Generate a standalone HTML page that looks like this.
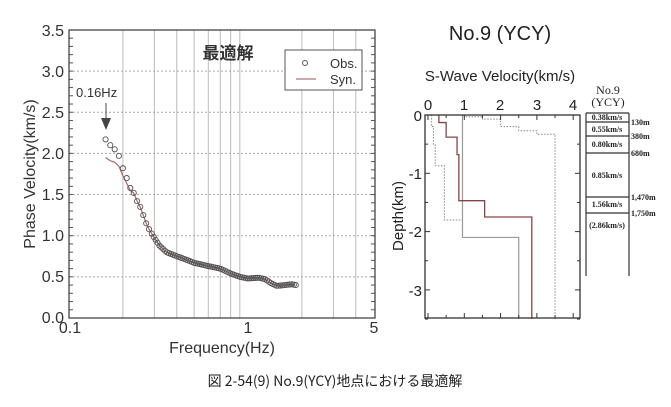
<!DOCTYPE html><html><head><meta charset="utf-8"><style>
body{margin:0;background:#fff;width:671px;height:407px;overflow:hidden;font-family:"Liberation Sans","Noto Sans CJK JP",sans-serif}
svg{position:absolute;left:0;top:0}
</style></head><body>
<svg id="s" width="671" height="407" xmlns="http://www.w3.org/2000/svg" font-family="Liberation Sans, Noto Sans CJK JP, sans-serif">
<g id="left"></g>
<text x="228" y="59" font-size="17" font-weight="bold" text-anchor="middle" fill="#333" font-family="Noto Sans CJK JP, sans-serif">最適解</text>
<rect x="285" y="50" width="77" height="40" fill="#fff" stroke="#555"/>
<circle cx="305" cy="63" r="2.5" fill="none" stroke="#555"/>
<text x="330" y="68" font-size="13" fill="#333">Obs.</text>
<line x1="296" y1="79" x2="316" y2="79" stroke="#a77" stroke-width="1.2"/>
<text x="330" y="84" font-size="13" fill="#333">Syn.</text>
<text x="76" y="97" font-size="13" fill="#333">0.16Hz</text>
<line x1="106" y1="103" x2="106" y2="125" stroke="#444"/>
<polygon points="101,118 111,118 106,130" fill="#444"/>
<g font-size="16" fill="#333" text-anchor="end">
<text x="64" y="36">3.5</text><text x="64" y="77">3.0</text><text x="64" y="118">2.5</text><text x="64" y="159">2.0</text><text x="64" y="200">1.5</text><text x="64" y="241">1.0</text><text x="64" y="282">0.5</text><text x="64" y="323">0.0</text></g>
<g font-size="16" fill="#333" text-anchor="middle"><text x="70" y="333">0.1</text><text x="248" y="333">1</text><text x="374" y="333">5</text></g>
<text x="222" y="353" font-size="16" fill="#333" text-anchor="middle">Frequency(Hz)</text>
<text transform="translate(35,174) rotate(-90)" font-size="16" fill="#333" text-anchor="middle">Phase Velocity(km/s)</text>
<text x="500" y="40" font-size="20" fill="#222" text-anchor="middle">No.9 (YCY)</text>
<text x="500" y="81" font-size="15" fill="#222" text-anchor="middle">S-Wave Velocity(km/s)</text>
<g font-size="15" fill="#222" text-anchor="middle"><text x="428" y="110">0</text><text x="464" y="110">1</text><text x="500" y="110">2</text><text x="537" y="110">3</text><text x="573" y="110">4</text></g>
<g font-size="15" fill="#222" text-anchor="end"><text x="422" y="121">0</text><text x="422" y="179">-1</text><text x="422" y="237">-2</text><text x="422" y="296">-3</text></g>
<text transform="translate(403,216) rotate(-90)" font-size="15" fill="#222" text-anchor="middle">Depth(km)</text>
<g id="right"></g>
<g font-family="Liberation Serif, serif" fill="#222">
<text x="608" y="94" font-size="12" text-anchor="middle">No.9</text>
<text x="608" y="106" font-size="12" text-anchor="middle">(YCY)</text>
<g font-size="8" font-weight="bold" text-anchor="middle">
<text x="607" y="120">0.38km/s</text><text x="607" y="132">0.55km/s</text><text x="607" y="147">0.80km/s</text><text x="607" y="178">0.85km/s</text><text x="607" y="207">1.56km/s</text><text x="607" y="228">(2.86km/s)</text></g>
<g font-size="8" font-weight="bold"><text x="631" y="125">130m</text><text x="631" y="139">380m</text><text x="631" y="156">680m</text><text x="631" y="200">1,470m</text><text x="631" y="216">1,750m</text></g>
</g>
<text x="335" y="386" font-size="14" fill="#222" text-anchor="middle" font-family="Noto Sans CJK JP, sans-serif">図 2-54(9) No.9(YCY)地点における最適解</text>
</svg>
<script>
const NS="http://www.w3.org/2000/svg";
function el(p,t,a){const e=document.createElementNS(NS,t);for(const k in a)e.setAttribute(k,a[k]);p.appendChild(e);return e;}
const L=document.getElementById('left');
const X=f=>69+179*Math.log10(f/0.1), Y=v=>318-v*82.3;
[0.2,0.3,0.4,0.5,0.6,0.7,0.8,0.9,2,3,4].forEach(f=>el(L,'line',{x1:X(f),x2:X(f),y1:30,y2:318,stroke:'#bbb','stroke-width':1}));
for(let v=0.5;v<3.5;v+=0.5)el(L,'line',{x1:69,x2:375,y1:Y(v),y2:Y(v),stroke:'#aaa','stroke-dasharray':'2,2'});
for(let v=0;v<=3.5;v+=0.1){el(L,'line',{x1:69,x2:73,y1:Y(v),y2:Y(v),stroke:'#555'});el(L,'line',{x1:371,x2:375,y1:Y(v),y2:Y(v),stroke:'#555'});}
el(L,'rect',{x:69,y:30,width:306,height:288,fill:'none',stroke:'#444','stroke-width':1.3});
const d=[[0.16,2.17],[0.17,2.1],[0.18,2.05],[0.19,1.97],[0.2,1.82],[0.21,1.7],[0.22,1.58],[0.23,1.52],[0.24,1.42],[0.25,1.35],[0.26,1.25],[0.27,1.15],[0.28,1.08],[0.3,0.97],[0.32,0.88],[0.35,0.8],[0.4,0.75],[0.5,0.67],[0.6,0.63],[0.7,0.6],[0.8,0.54],[0.9,0.5],[1.0,0.48],[1.15,0.49],[1.25,0.47],[1.35,0.42],[1.45,0.39],[1.6,0.4],[1.75,0.41],[1.85,0.4]];
function interp(f){for(let i=0;i<d.length-1;i++)if(f<=d[i+1][0]){const t=(f-d[i][0])/(d[i+1][0]-d[i][0]);return d[i][1]+t*(d[i+1][1]-d[i][1]);}return 0.4;}
let pts=d.filter(p=>p[0]<0.3).map(p=>p[0]);
for(let f=0.29;f<=1.85;f*=1.025)pts.push(f);
let sp=[];for(let f=0.16;f<=1.85;f*=1.01){let v=interp(f);if(f<0.23)v=v-0.22*(0.23-f)/0.07;sp.push(X(f)+','+Y(v));}
el(L,'polyline',{points:sp.join(' '),fill:'none',stroke:'#a66','stroke-width':1.2});
pts.forEach(f=>el(L,'circle',{cx:X(f),cy:Y(interp(f)),r:2.6,fill:'none',stroke:'#555','stroke-width':0.9}));
const R=document.getElementById('right');
const VX=v=>428+36.3*v, DY=z=>115+58.3*z;
function step(a,st){let p=[];let z0=0;a.forEach(([v,z])=>{p.push(VX(v)+','+DY(z0));p.push(VX(v)+','+DY(z));z0=z;});const e=el(R,'polyline',{points:p.join(' '),fill:'none',...st});}
step([[1.0,0.03],[1.5,0.07],[2.0,0.2],[2.5,0.27],[3.0,0.33],[3.5,3.5]],{stroke:'#888','stroke-dasharray':'1.5,1.5'});
step([[0.1,0.2],[0.15,0.5],[0.2,0.87],[0.45,1.8],[0.95,2.1]],{stroke:'#888','stroke-dasharray':'1.5,1.5'});
step([[0.95,2.1],[2.5,3.5]],{stroke:'#999','stroke-width':1.2});
step([[0.3,0.13],[0.5,0.38],[0.8,0.68],[0.85,1.47],[1.56,1.75],[2.86,3.5]],{stroke:'#844','stroke-width':1.3});
for(let v=0;v<=4;v+=0.5){el(R,'line',{x1:VX(v),x2:VX(v),y1:115,y2:v%1?118:120,stroke:'#333'});el(R,'line',{x1:VX(v),x2:VX(v),y1:318,y2:v%1?315:313,stroke:'#333'});}
for(let z=0;z<=3.5;z+=0.5){el(R,'line',{x1:425,x2:z%1?428:430,y1:DY(z),y2:DY(z),stroke:'#333'});el(R,'line',{x1:580,x2:z%1?577:575,y1:DY(z),y2:DY(z),stroke:'#333'});}
el(R,'rect',{x:425,y:115,width:155,height:203,fill:'none',stroke:'#333','stroke-width':1.3});
el(R,'line',{x1:586,x2:586,y1:113,y2:276,stroke:'#333','stroke-width':1.2});
el(R,'line',{x1:629,x2:629,y1:113,y2:276,stroke:'#333','stroke-width':1.2});
[113,122,136,153,197,213].forEach(y=>el(R,'line',{x1:586,x2:629,y1:y,y2:y,stroke:'#333','stroke-width':1.2}));
</script>
</body></html>
